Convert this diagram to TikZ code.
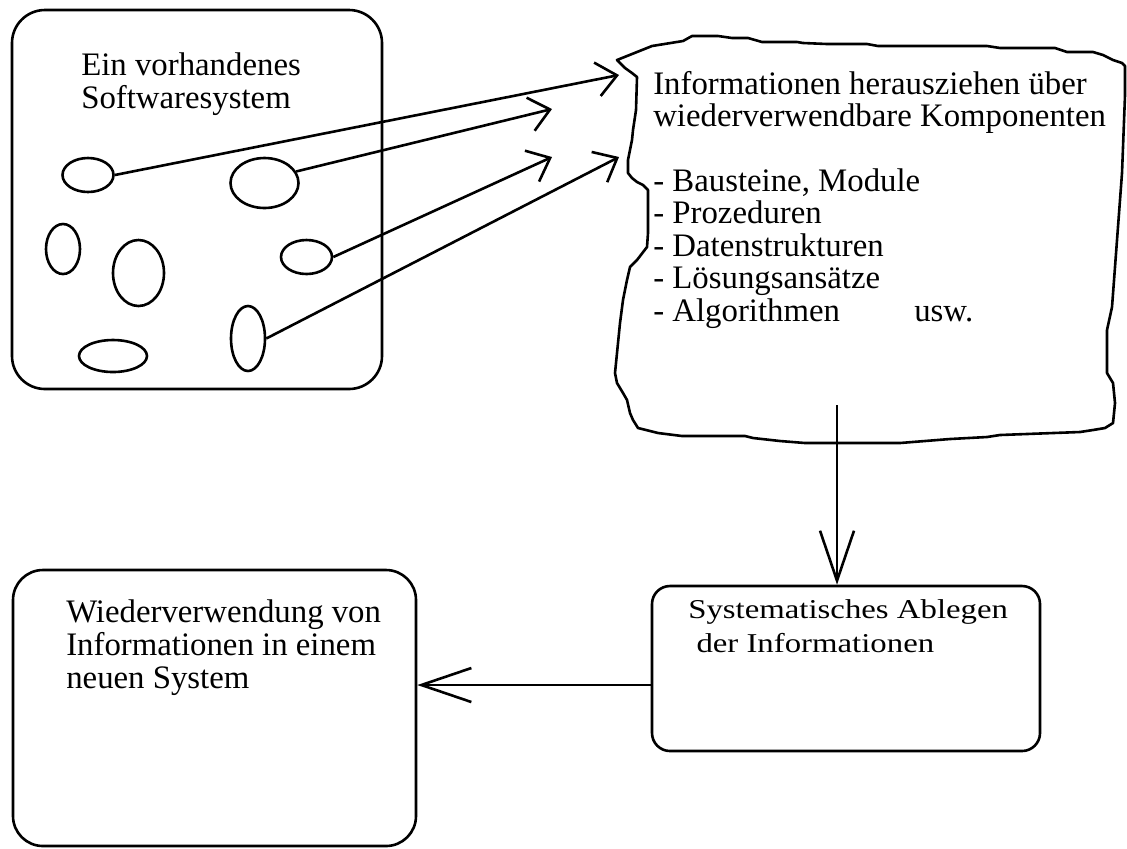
\documentclass[tikz,border=0pt]{standalone}
\usepackage{fontspec}
\setmainfont{Liberation Serif}
\usetikzlibrary{arrows.meta,shapes.geometric}

\tikzset{
  box/.style={draw, inner sep=0pt},
  blob/.style={draw, ellipse, inner sep=0pt},
  txt/.style={anchor=base west, align=left, inner sep=0pt,
    font=\fontsize{16.4pt}{16.2pt}\selectfont},
  bigtip/.style={-{Straight Barb[length=25pt,width=17pt]}},
  smalltip/.style={-{Straight Barb[length=10pt,width=17pt]}}
}

\begin{document}
\begin{tikzpicture}[x=0.5pt,y=-0.5pt,line width=1.3pt,line join=round]
  \useasboundingbox (0,0) rectangle (1127,848);

  % the existing system and its parts
  \node[box, rounded corners=16.5pt, minimum width=185pt, minimum height=189.5pt]
    (soft) at (197,199.5) {};
  \node[txt] (softtext) at (80,108) {Ein vorhandenes\\Softwaresystem};
  \node[blob, minimum width=25.5pt, minimum height=17pt] (c1) at (88,175) {};
  \node[blob, minimum width=34pt, minimum height=25pt] (c2) at (264.5,183) {};
  \node[blob, minimum width=17pt, minimum height=25pt] (c3) at (63,249) {};
  \node[blob, minimum width=25.5pt, minimum height=33pt] (c4) at (138.5,273) {};
  \node[blob, minimum width=25.5pt, minimum height=17pt] (c5) at (306.5,257) {};
  \node[blob, minimum width=17pt, minimum height=32.5pt] (c6) at (248,338.5) {};
  \node[blob, minimum width=34pt, minimum height=16pt] (c7) at (113,356) {};

  % torn sheet with the extracted information
  \draw (617,60) -- (652,46) -- (683,41) -- (692,36) -- (718,36) -- (732,38)
    -- (748,38) -- (762,42) -- (797,42) -- (803,43) -- (827,44) -- (867,44)
    -- (878,46) -- (987,46) -- (1000,48) -- (1055,48) -- (1067,52) -- (1093,52)
    -- (1103,55) -- (1113,60) -- (1122,63) -- (1125,66) -- (1125,95)
    -- (1122,173) -- (1117,240) -- (1112,307) -- (1107,330) -- (1107,373)
    -- (1113,383) -- (1115,403) -- (1113,423) -- (1105,428) -- (1093,430)
    -- (1080,432) -- (1000,435) -- (987,437) -- (950,439) -- (900,443)
    -- (805,443) -- (780,441) -- (753,438) -- (745,436) -- (682,436)
    -- (658,433) -- (638,428) -- (633,420) -- (630,413) -- (627,400)
    -- (623,393) -- (617,383) -- (615,373) -- (617,353) -- (620,323)
    -- (623,300) -- (627,280) -- (630,267) -- (637,260) -- (647,247)
    -- (648,233) -- (648,190) -- (643,185) -- (637,182) -- (632,178)
    -- (628,173) -- (628,160) -- (630,150) -- (632,140) -- (633,130)
    -- (636,110) -- (637,77) -- (632,73) -- (625,68) -- cycle;
  \node[txt] (infotext) at (652,321) {Informationen herausziehen über\\
    wiederverwendbare Komponenten\\[16.2pt]
    - Bausteine, Module\\
    - Prozeduren\\
    - Datenstrukturen\\
    - Lösungsansätze\\
    \makebox[130.5pt][l]{- Algorithmen}usw.};

  \coordinate (t1) at (619,75);
  \coordinate (t2) at (552,109);
  \coordinate (t3) at (552,157);
  \coordinate (t4) at (619,157);
  \draw[smalltip] (c1.east) -- (t1);
  \draw[smalltip] (c2.20) -- (t2);
  \draw[smalltip] (c5.east) -- (t3);
  \draw[smalltip] (c6.east) -- (t4);

  % storing and reuse
  \node[box, rounded corners=9pt, minimum width=194pt, minimum height=82.5pt]
    (store) at (846,668.5) {};
  \node[txt, font=\fontsize{16.4pt}{20.5pt}\selectfont] (storetext) at (687,618)
    {\scalebox{1}[0.83]{\begin{tabular}[t]{@{}l@{}}%
    Systematisches Ablegen\\\ der Informationen\end{tabular}}};
  \node[box, rounded corners=15pt, minimum width=201.5pt, minimum height=138pt]
    (reuse) at (214.5,708) {};
  \node[txt, font=\fontsize{16.4pt}{16.5pt}\selectfont] (reusetext) at (65,688)
    {Wiederverwendung von\\Informationen in einem\\neuen System};

  \coordinate (down) at (837,405);
  \coordinate (back) at (652,685);
  \draw[bigtip] (down) -- (down |- store.north);
  \draw[bigtip] (back) -- (back -| reuse.east);
\end{tikzpicture}
\end{document}
